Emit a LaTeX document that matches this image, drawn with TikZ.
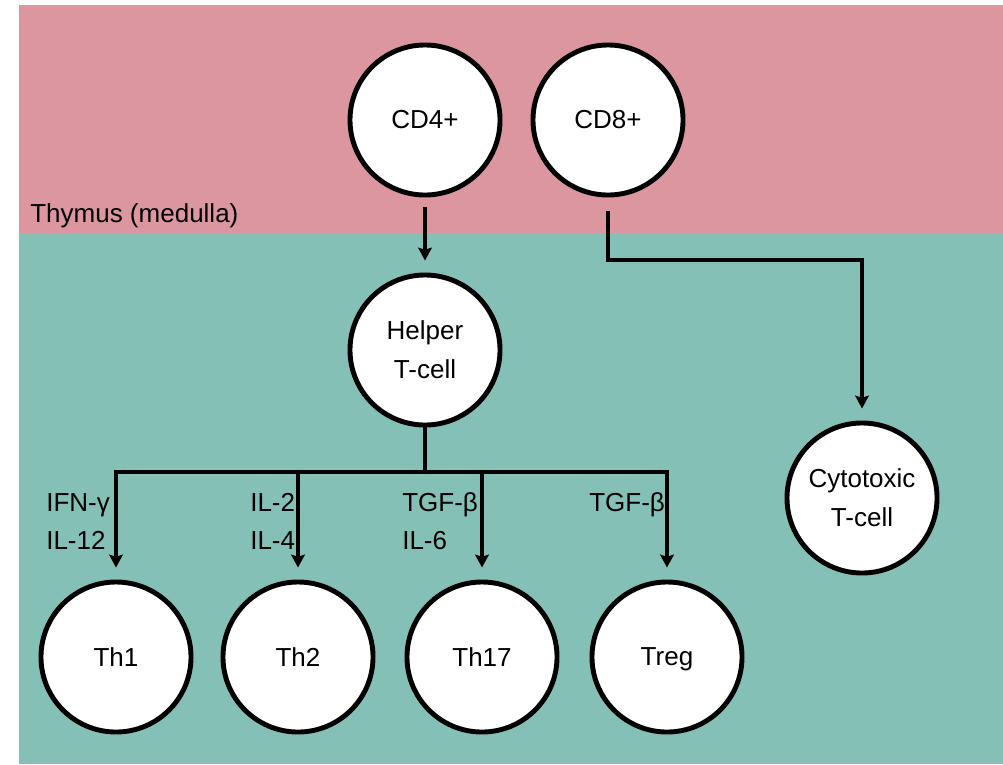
\documentclass[tikz,border=0pt]{standalone}
\usepackage{fontspec}
\setmainfont{Liberation Sans}
\usepackage{tikz}
\usetikzlibrary{arrows.meta}
\definecolor{thymuspink}{RGB}{219,150,160}
\definecolor{bloodteal}{RGB}{133,192,182}
\newcommand{\celltext}{\fontsize{18.5}{27.7}\selectfont}
\newcommand{\signaltext}{\fontsize{18.5}{27}\selectfont}

\begin{document}
\begin{tikzpicture}[x=0.025cm, y=-0.025cm,
		cell/.style={circle, draw=black, fill=white, line width=3.5pt, minimum size=3.75cm, inner sep=0pt, align=center, font=\celltext},
		wire/.style={line width=3.5pt},
		pointer/.style={wire, -{Stealth[length=0.32cm, width=0.34cm, inset=0.05cm]}, shorten >=0.3cm},
		signal/.style={anchor=north west, inner sep=0pt, align=left, font=\signaltext},
	]

	% background regions
	\useasboundingbox (0,0) rectangle (1003,764);
	\fill[bloodteal] (19,233) rectangle (1003,764);
	\fill[thymuspink] (19,5) rectangle (1003,233);
	\node[anchor=base west, inner sep=0pt, font=\signaltext] (thymus) at (30,222) {Thymus (medulla)};

	\node[cell] (cd4) at (425,120) {CD4+};
	\node[cell] (cd8) at (608,120) {CD8+};
	\node[cell] (helper) at (425,350) {Helper\\T-cell};
	\node[cell] (cyto) at (862,498) {Cytotoxic\\T-cell};

	\node[cell] (th1) at (116,657) {Th1};
	\node[cell] (th2) at (298,657) {Th2};
	\node[cell] (th17) at (482,657) {Th17};
	\node[cell] (treg) at (667,657) {\raisebox{0pt}[\height][0pt]{Treg}};

	\coordinate (cd8turn) at (608,260);
	\coordinate (split) at (425,472);

	\draw[pointer, shorten <=0.25cm] (cd4) -- (helper);
	\draw[pointer, shorten <=0.35cm] (cd8) -- (cd8turn) -| (cyto);
	\draw[wire] (helper) -- (split);
	\foreach \sub in {th1,th2,th17,treg}
		\draw[pointer] (split) -| (\sub);

	% cytokines
	\node[signal] (sigth1) at (46,493) {IFN-γ\\IL-12};
	\node[signal] (sigth2) at (250,493) {IL-2\\IL-4};
	\node[signal] (sigth17) at (402,492) {TGF-β\\IL-6};
	\node[signal] (sigtreg) at (589,492) {TGF-β};

\end{tikzpicture}
\end{document}
